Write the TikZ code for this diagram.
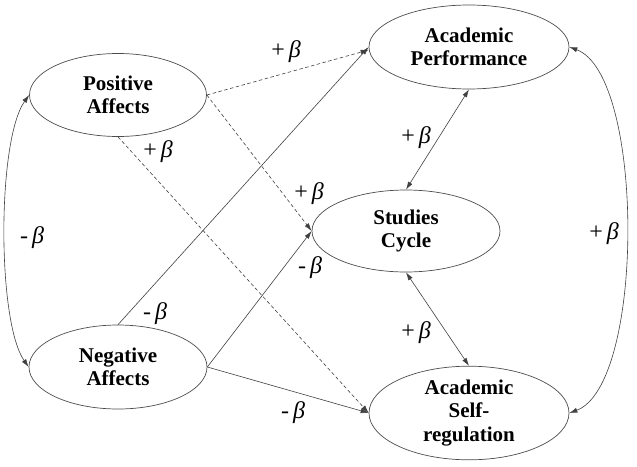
\documentclass[tikz,border=0pt]{standalone}
\usepackage{fontspec}
\setmainfont{Liberation Serif}
\usetikzlibrary{shapes.geometric,arrows.meta}
\begin{document}
\begin{tikzpicture}[x=1pt,y=-1pt,
  latent/.style={ellipse,draw=black!70,line width=0.7pt,inner sep=0pt,align=center,
    font=\fontsize{21}{23.5}\selectfont\bfseries},
  conn/.style={draw=black!75,line width=0.6pt},
  tip/.style={-{Latex[length=8pt,width=5pt]}},
  both/.style={{Latex[length=8pt,width=5pt]}-{Latex[length=8pt,width=5pt]}},
  dashedline/.style={dash pattern=on 3.5pt off 2.5pt},
  lbl/.style={inner sep=0pt,font=\fontsize{24}{26}\selectfont}]
\useasboundingbox (0,0) rectangle (637,466);
\node[latent,minimum width=177pt,minimum height=83pt] (PA) at (118,95) {Positive\\Affects};
\node[latent,minimum width=178pt,minimum height=84pt] (NA) at (118,367) {Negative\\Affects};
\node[latent,minimum width=200pt,minimum height=84pt] (AP) at (469,47) {Academic\\Performance};
\node[latent,minimum width=188pt,minimum height=82pt] (SC) at (406,231) {Studies\\Cycle};
\node[latent,minimum width=200pt,minimum height=86pt] (SR) at (469,413) {Academic\\Self-\\regulation};

\draw[conn,dashedline,tip] (PA.east) -- ([yshift=-3pt]AP.west);
\draw[conn,dashedline,tip] (PA.east) -- (SC.west);
\draw[conn,dashedline,tip] (PA.south) -- (SR.west);
\draw[conn,tip] (NA.north) -- (AP.west);
\draw[conn,tip] (NA.east) -- (SC.west);
\draw[conn,tip] (NA.east) -- (SR.west);
\draw[conn,both] (AP.south) -- (SC.north);
\draw[conn,both] (SC.south) -- (SR.north);
\draw[conn,both] (PA.west) .. controls (-3,140) and (-3,322) .. (NA.west);
\draw[conn,both] (AP.east) .. controls (645,75) and (645,385) .. (SR.east);

\node[lbl] (l1) at (286,52) {+\,\textit{β}};
\node[lbl] (l2) at (158,152) {+\,\textit{β}};
\node[lbl] (l3) at (309,194) {+\,\textit{β}};
\node[lbl] (l4) at (32,238) {-\,\textit{β}};
\node[lbl] (l5) at (155,314) {-\,\textit{β}};
\node[lbl] (l6) at (310,268) {-\,\textit{β}};
\node[lbl] (l7) at (293,413) {-\,\textit{β}};
\node[lbl] (l8) at (416,138) {+\,\textit{β}};
\node[lbl] (l9) at (416,333) {+\,\textit{β}};
\node[lbl] (l10) at (604,234) {+\,\textit{β}};
\end{tikzpicture}
\end{document}
